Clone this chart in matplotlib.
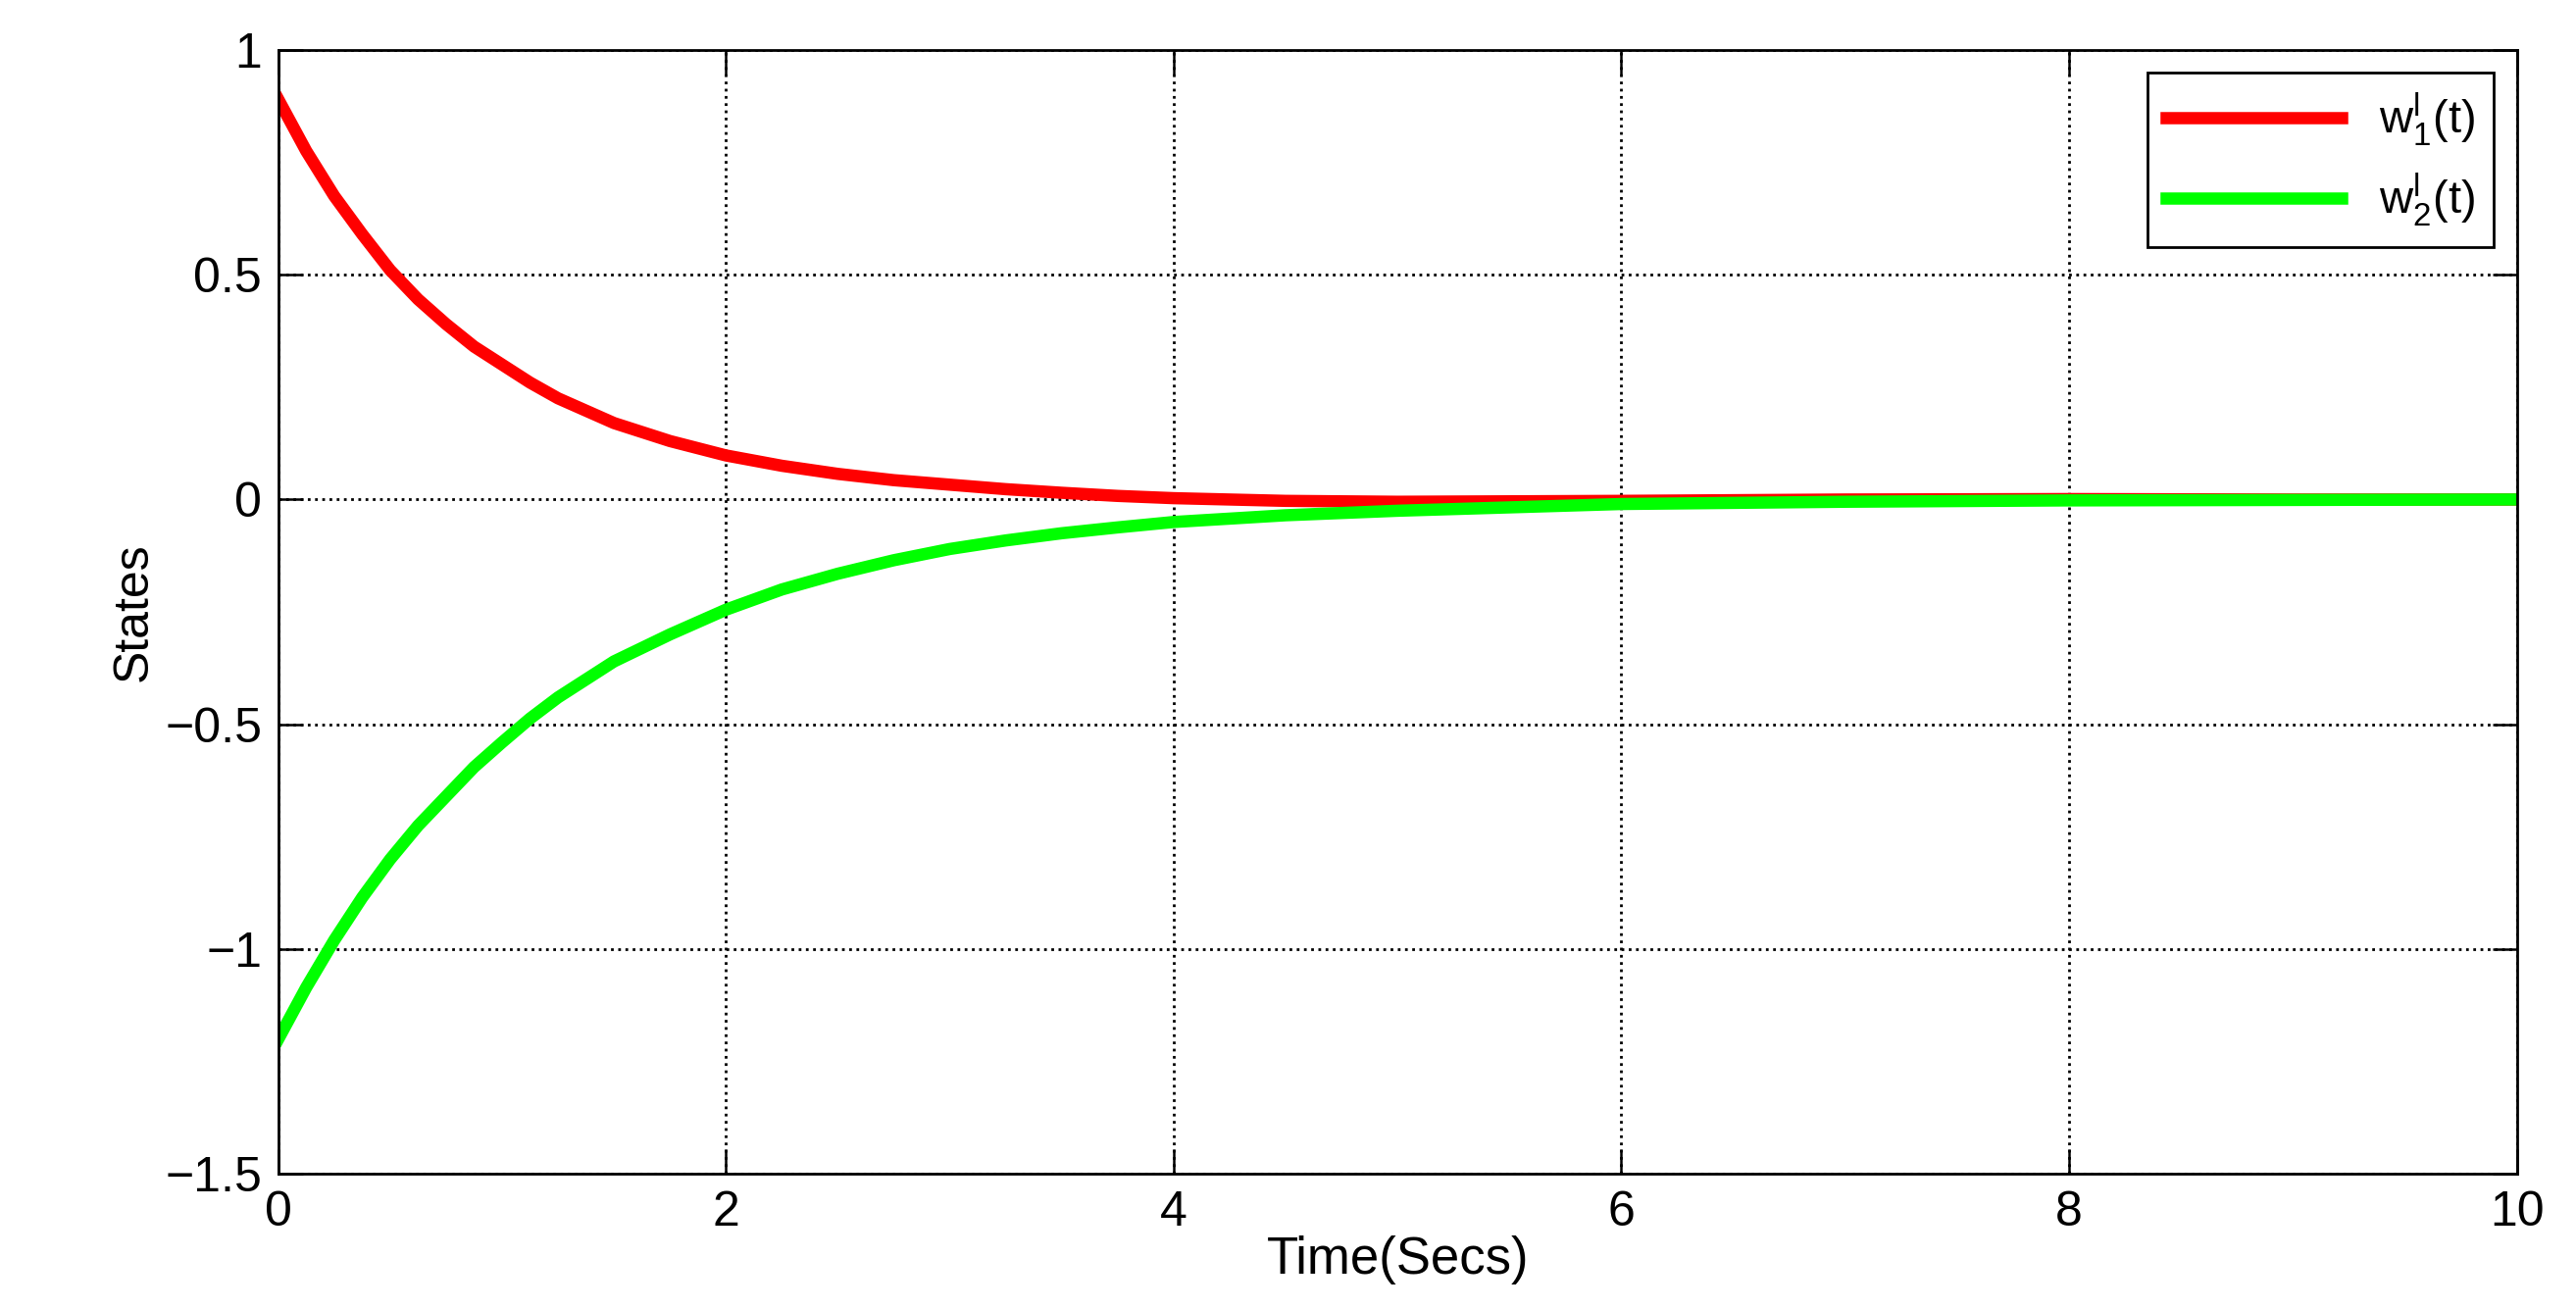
import matplotlib
matplotlib.use('Agg')
from matplotlib import pyplot as plt

plt.rcParams['font.family'] = ['Liberation Sans', 'DejaVu Sans']
plt.rcParams['mathtext.fontset'] = 'custom'
plt.rcParams['mathtext.rm'] = 'Liberation Sans'
plt.rcParams['mathtext.it'] = 'Liberation Sans'

t = [0, 0.125, 0.25, 0.375, 0.5, 0.625, 0.75, 0.875, 1.0, 1.125, 1.25, 1.5, 1.75,
     2.0, 2.25, 2.5, 2.75, 3.0, 3.25, 3.5, 3.75, 4.0, 4.5, 5.0, 6.0, 7.0, 8.0, 9.0, 10.0]
w1 = [0.89, 0.775, 0.675, 0.59, 0.51, 0.445, 0.39, 0.34, 0.30, 0.26, 0.225, 0.17,
      0.13, 0.098, 0.075, 0.057, 0.043, 0.033, 0.023, 0.015, 0.008, 0.003, -0.003,
      -0.005, -0.003, 0.0, 0.001, 0.0, 0.0]
w2 = [-1.2, -1.085, -0.98, -0.885, -0.80, -0.725, -0.66, -0.595, -0.54, -0.487,
      -0.44, -0.36, -0.30, -0.245, -0.2, -0.165, -0.135, -0.11, -0.091, -0.075,
      -0.062, -0.05, -0.035, -0.025, -0.01, -0.005, -0.002, -0.001, 0.0]

fig = plt.figure(figsize=(26.27, 13.35), dpi=100)
ax = fig.add_axes([0.108, 0.103, 0.869, 0.859])
ax.plot(t, w1, color='#ff0000', lw=9, label=r'w$^{\rm l}_{\rm 1}$(t)')
ax.plot(t, w2, color='#00ff00', lw=9, label=r'w$^{\rm l}_{\rm 2}$(t)')
ax.set_xlim(0, 10)
ax.set_ylim(-1.5, 1)
ax.set_xticks(range(0, 11, 2))
ax.set_yticks([-1.5, -1, -0.5, 0, 0.5, 1])
ax.set_yticklabels(['\u22121.5', '\u22121', '\u22120.5', '0', '0.5', '1'])
ax.grid(True, color='black', linestyle=':', linewidth=2)
ax.tick_params(direction='in', top=True, right=True, labelsize=36, length=18, width=1.8, pad=12)
for s in ax.spines.values():
    s.set_linewidth(2)
ax.set_xlabel('Time(Secs)', fontsize=38, labelpad=0)
ax.set_ylabel('States', fontsize=36, labelpad=6)
leg = ax.legend(loc='upper right', fontsize=34, fancybox=False, edgecolor='black',
                framealpha=1, handlelength=3.8, borderaxespad=0.5)
leg.get_frame().set_linewidth(2)
fig.savefig('out.png')
